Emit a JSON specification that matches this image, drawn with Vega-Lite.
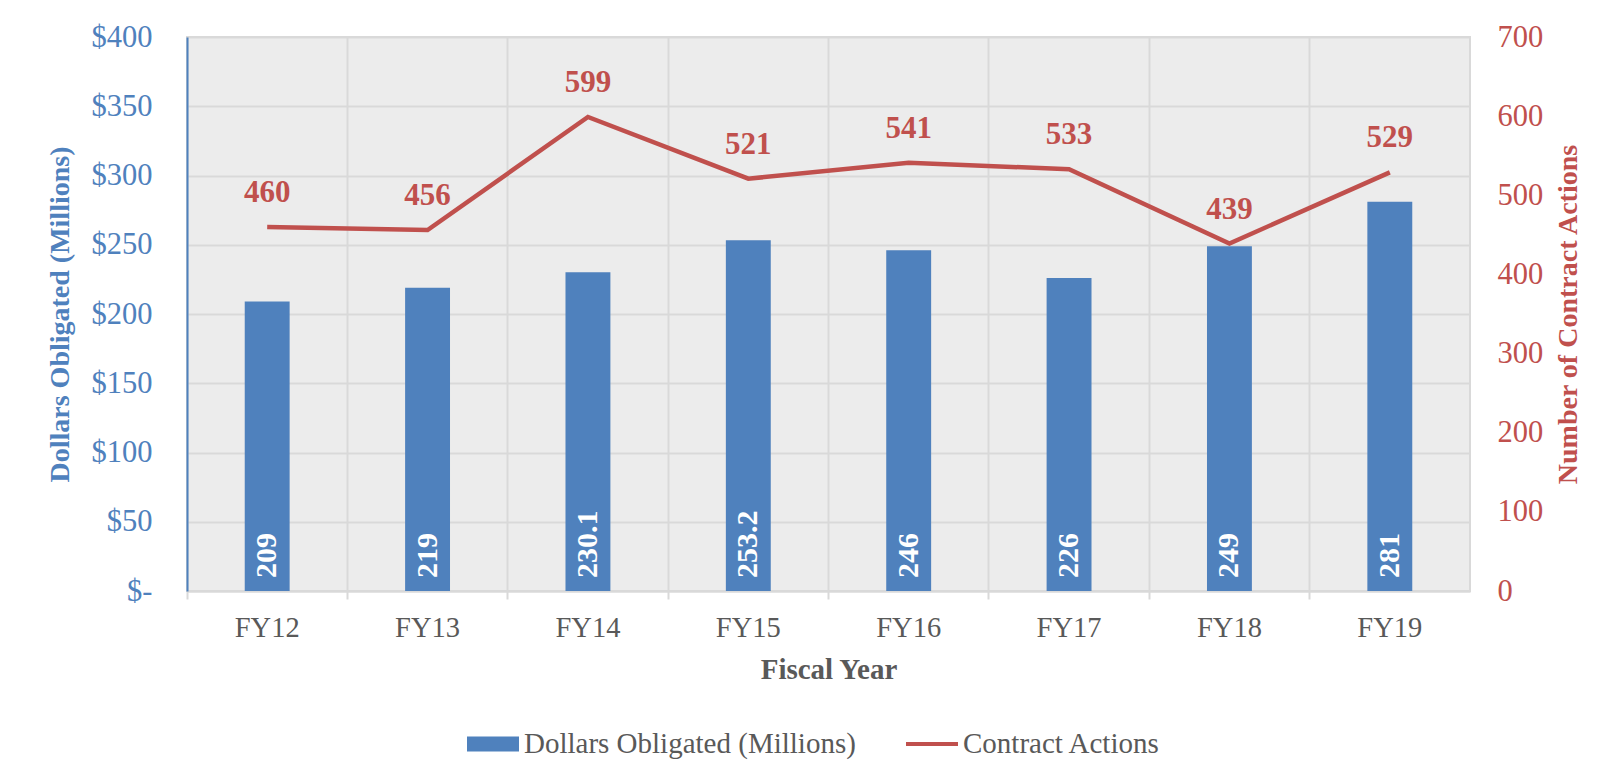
{
  "$schema": "https://vega.github.io/schema/vega-lite/v6.json",
  "width": 1283,
  "height": 554,
  "autosize": {"type": "none"},
  "padding": {"left": 187, "top": 37, "right": 134, "bottom": 187},
  "background": "white",
  "config": {
    "font": "Liberation Serif",
    "view": {"stroke": "#d9d9d9", "strokeWidth": 2, "fill": "#ececec"},
    "legend": {
      "labelFont": "Liberation Serif",
      "labelFontSize": 29,
      "labelColor": "#595959",
      "labelLimit": 600,
      "symbolSize": 2704,
      "labelOffset": 5,
      "columnPadding": 50,
      "direction": "horizontal",
      "orient": "none",
      "legendX": 280,
      "legendY": 681,
      "title": null
    }
  },
  "data": {
    "values": [
      {"fy": "FY12", "dollars": 209, "actions": 460},
      {"fy": "FY13", "dollars": 219, "actions": 456},
      {"fy": "FY14", "dollars": 230.1, "actions": 599},
      {"fy": "FY15", "dollars": 253.2, "actions": 521},
      {"fy": "FY16", "dollars": 246, "actions": 541},
      {"fy": "FY17", "dollars": 226, "actions": 533},
      {"fy": "FY18", "dollars": 249, "actions": 439},
      {"fy": "FY19", "dollars": 281, "actions": 529}
    ]
  },
  "encoding": {
    "x": {
      "field": "fy",
      "type": "nominal",
      "sort": null,
      "scale": {"type": "band", "paddingInner": 0, "paddingOuter": 0},
      "axis": {
        "title": "Fiscal Year",
        "titleFont": "Liberation Serif",
        "titleFontSize": 29,
        "titleFontWeight": "bold",
        "titleColor": "#595959",
        "titlePadding": 14,
        "labelFont": "Liberation Serif",
        "labelFontSize": 28.5,
        "labelColor": "#595959",
        "labelAngle": 0,
        "labelPadding": 14,
        "bandPosition": 0,
        "grid": true,
        "gridColor": "#d9d9d9",
        "gridWidth": 2,
        "domainColor": "#d9d9d9",
        "domainWidth": 2,
        "tickColor": "#d9d9d9",
        "tickWidth": 2,
        "tickSize": 8
      }
    }
  },
  "layer": [
    {
      "layer": [
        {
          "mark": {"type": "bar", "width": {"band": 0.28}, "color": "#4f81bd"},
          "encoding": {
            "y": {
              "field": "dollars",
              "type": "quantitative",
              "scale": {"domain": [0, 400], "nice": false},
              "axis": {
                "orient": "left",
                "title": "Dollars Obligated (Millions)",
                "titleFont": "Liberation Serif",
                "titleFontSize": 28,
                "titleFontWeight": "bold",
                "titleColor": "#4f81bd",
                "titlePadding": 17,
                "values": [0, 50, 100, 150, 200, 250, 300, 350, 400],
                "labelExpr": "datum.value == 0 ? '$-' : '$' + datum.label",
                "labelFont": "Liberation Serif",
                "labelFontSize": 30.5,
                "labelColor": "#4f81bd",
                "labelPadding": 35,
                "ticks": false,
                "domainColor": "#4f81bd",
                "domainWidth": 2,
                "grid": true,
                "gridColor": "#d9d9d9",
                "gridWidth": 2
              }
            },
            "color": {
              "datum": "Dollars Obligated (Millions)",
              "type": "nominal",
              "scale": {
                "domain": ["Dollars Obligated (Millions)", "Contract Actions"],
                "range": ["#4f81bd", "#c0504d"]
              },
              "legend": {
                "encode": {
                  "symbols": {
                    "update": {
                      "shape": {"signal": "datum.value == 'Contract Actions' ? 'M-1,-0.08H1V0.08H-1Z' : 'M-1,-0.29H1V0.29H-1Z'"},
                      "fill": {"scale": "color", "field": "value"},
                      "strokeWidth": {"value": 0},
                      "opacity": {"value": 1}
                    }
                  }
                }
              }
            }
          }
        },
        {
          "mark": {
            "type": "text",
            "angle": 270,
            "align": "left",
            "baseline": "middle",
            "dx": 13,
            "font": "Liberation Serif",
            "fontSize": 30,
            "fontWeight": "bold",
            "color": "white"
          },
          "encoding": {
            "y": {"datum": 0, "type": "quantitative"},
            "text": {"field": "dollars", "type": "nominal"}
          }
        }
      ]
    },
    {
      "layer": [
        {
          "mark": {"type": "line", "color": "#c0504d", "strokeWidth": 4.5},
          "encoding": {
            "y": {
              "field": "actions",
              "type": "quantitative",
              "scale": {"domain": [0, 700], "nice": false},
              "axis": {
                "orient": "right",
                "title": "Number of Contract Actions",
                "titleFont": "Liberation Serif",
                "titleFontSize": 28,
                "titleFontWeight": "bold",
                "titleColor": "#c0504d",
                "titleAngle": 270,
                "titleBaseline": "top",
                "titlePadding": 12,
                "values": [0, 100, 200, 300, 400, 500, 600, 700],
                "labelFont": "Liberation Serif",
                "labelFontSize": 30.5,
                "labelColor": "#c0504d",
                "labelPadding": 27,
                "ticks": false,
                "domain": false,
                "grid": false
              }
            },
            "color": {"datum": "Contract Actions", "type": "nominal"}
          }
        },
        {
          "mark": {
            "type": "text",
            "baseline": "alphabetic",
            "dy": -25,
            "font": "Liberation Serif",
            "fontSize": 31,
            "fontWeight": "bold",
            "color": "#c0504d"
          },
          "encoding": {
            "y": {"field": "actions", "type": "quantitative"},
            "text": {"field": "actions", "type": "nominal"}
          }
        }
      ]
    }
  ],
  "resolve": {"scale": {"y": "independent"}}
}
